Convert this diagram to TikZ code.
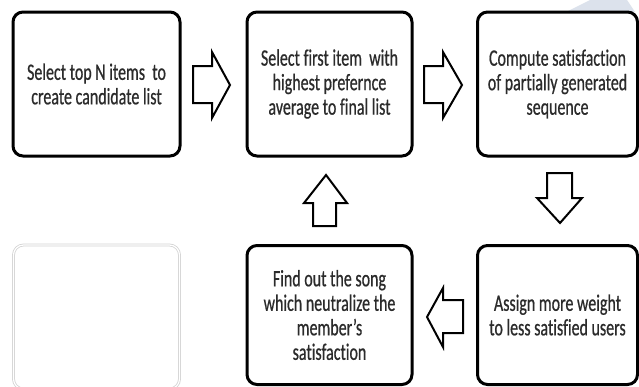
\documentclass[tikz,border=0pt]{standalone}
\usepackage{fontspec}
\setmainfont[FakeStretch=0.68, FakeBold=0.6, Ligatures={NoCommon}]{Carlito}
\definecolor{txt}{HTML}{2B2B2B}
\definecolor{wm}{HTML}{DCE2EC}
\begin{document}
\begin{tikzpicture}[x=1pt,y=-1pt,
  stepbox/.style={draw=black, line width=3pt, rounded corners=10pt, fill=white,
    align=center, text=txt, font=\fontsize{23.5}{24.5}\selectfont, inner sep=0pt},
  ghostbox/.style={draw=gray!35, line width=0.8pt, double=white, double distance=1.2pt,
    rounded corners=10pt},
  blockarrow/.style={draw=black, line width=2pt, fill=white, line join=miter}]
\useasboundingbox (0,0) rectangle (639,386);
\fill[white] (0,0) rectangle (639,386);
% watermark wedge
\fill[wm] (568,11) -- (590,0) -- (627,0) -- (635,12) -- cycle;
% boxes
\node[stepbox, minimum width=167pt, minimum height=144pt] (b1) at (96.5,84)
  {Select top N items\ \ to\\create candidate list};
\node[stepbox, minimum width=165pt, minimum height=144pt] (b2) at (329.5,84)
  {Select first item\ \ with\\highest prefernce\\average to final list};
\node[stepbox, minimum width=160pt, minimum height=144pt] (b3) at (557.5,84)
  {Compute satisfaction\\of partially generated\\sequence};
\node[stepbox, minimum width=160pt, minimum height=139pt] (b4) at (557.5,315)
  {Assign more weight\\to less satisfied users};
\node[stepbox, minimum width=165pt, minimum height=139pt] (b5) at (329.5,315)
  {Find out the song\\which neutralize the\\member’s\\satisfaction};
\node[ghostbox, minimum width=166pt, minimum height=144pt] (b6) at (96.5,317) {};
% block arrows
\draw[blockarrow] (193,66) -- (212,66) -- (212,52) -- (230,85) -- (212,118) -- (212,103) -- (193,103) -- cycle;
\draw[blockarrow] (424,66) -- (443,66) -- (443,52) -- (462,85) -- (443,118) -- (443,103) -- (424,103) -- cycle;
\draw[blockarrow] (547,173) -- (572,173) -- (572,198) -- (582,198) -- (560,223) -- (537,198) -- (547,198) -- cycle;
\draw[blockarrow] (463,300) -- (443,300) -- (443,288) -- (427,317) -- (443,347) -- (443,333) -- (463,333) -- cycle;
\draw[blockarrow] (313,226) -- (313,203) -- (304,203) -- (326,175) -- (347,203) -- (336,203) -- (336,226) -- cycle;
\end{tikzpicture}
\end{document}
